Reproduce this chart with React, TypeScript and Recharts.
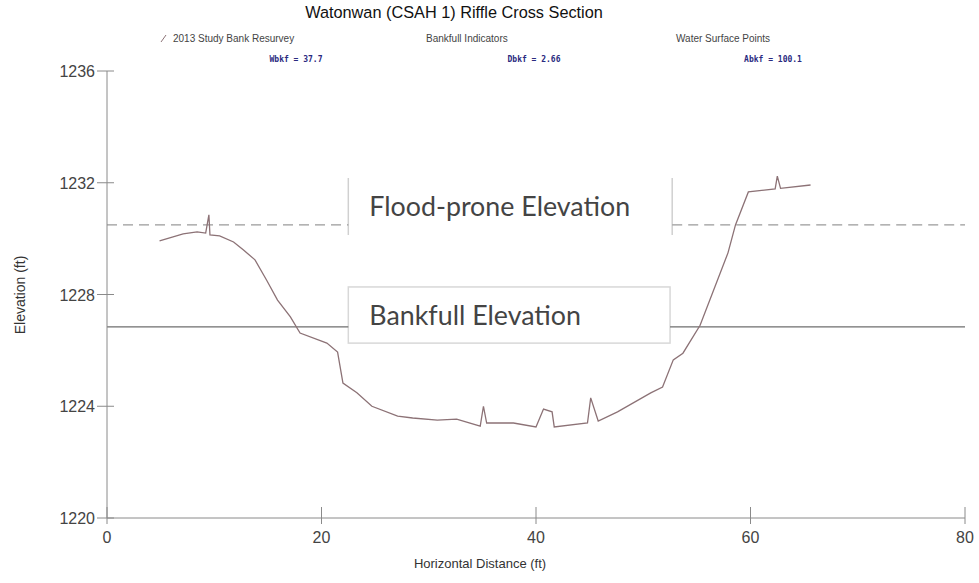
import React from "react";
import { LineChart, Line, XAxis, YAxis, ReferenceLine, ReferenceArea, Customized } from "recharts";

// surveyed cross-section: horizontal distance (ft) and elevation (ft)
const distance = [
  4.9, 7.1, 8.4, 9.2, 9.5, 9.6, 10.5, 11.8, 12.7, 13.8, 14.9, 15.9, 17.1, 18.0,
  20.5, 21.5, 22.0, 23.3, 24.7, 27.1, 28.5, 30.8, 32.6, 34.8, 35.1, 35.4, 37.9,
  40.0, 40.7, 41.5, 41.7, 44.8, 45.1, 45.8, 47.6, 50.7, 51.8, 52.8, 53.7, 55.3,
  57.9, 58.6, 59.8, 62.3, 62.5, 62.8, 65.6,
];
const elevation = [
  1229.92, 1230.17, 1230.24, 1230.2, 1230.85, 1230.13, 1230.1, 1229.88, 1229.6,
  1229.24, 1228.5, 1227.8, 1227.2, 1226.62, 1226.26, 1225.94, 1224.83, 1224.48,
  1224.0, 1223.65, 1223.58, 1223.5, 1223.54, 1223.29, 1224.0, 1223.4, 1223.4,
  1223.26, 1223.9, 1223.8, 1223.26, 1223.4, 1224.3, 1223.47, 1223.8, 1224.48,
  1224.69, 1225.66, 1225.9, 1226.9, 1229.49, 1230.49, 1231.67, 1231.78, 1232.24,
  1231.8, 1231.92,
];

const xTicks = [0, 20, 40, 60, 80];
const yTicks = [1220, 1224, 1228, 1232, 1236];

const floodProneElev = 1230.49;
const bankfullElev = 1226.84;

const legendLabels = ["2013 Study Bank Resurvey", "Bankfull Indicators", "Water Surface Points"];
const bankfullStats = ["Wbkf = 37.7", "Dbkf = 2.66", "Abkf = 100.1"];

const profile = distance.map((d, i) => ({ x: d, y: elevation[i] }));

const FONT = "'Liberation Sans', Arial, sans-serif";
const AXIS = "#8a8a8a";
const PROFILE = "#8c7276";

const YTick = ({ x, y, payload }: any) => (
  <g>
    <line x1={x - 10} x2={x + 7} y1={y} y2={y} stroke={AXIS} />
    <text x={x - 12} y={y + 6} textAnchor="end" fontSize={16} fill="#444" fontFamily={FONT}>
      {payload.value}
    </text>
  </g>
);

const XTick = ({ x, y, payload }: any) => (
  <g>
    <line x1={x} x2={x} y1={y - 11} y2={y + 6} stroke={AXIS} />
    <text x={x} y={y + 25} textAnchor="middle" fontSize={16} fill="#444" fontFamily={FONT}>
      {payload.value}
    </text>
  </g>
);

// white label box; "sides" draws only the vertical edges
const LabelBox = (text: string, sides: boolean) => (props: any) => {
  const { x, y, width, height } = props;
  return (
    <g>
      <rect x={x} y={y} width={width} height={height} fill="#fff" stroke={sides ? "none" : "#d8d8d8"} strokeWidth={1.5} />
      {sides && (
        <>
          <line x1={x} x2={x} y1={y} y2={y + height} stroke="#d0d0d0" strokeWidth={1.5} />
          <line x1={x + width} x2={x + width} y1={y} y2={y + height} stroke="#d0d0d0" strokeWidth={1.5} />
        </>
      )}
      <text x={x + 21} y={y + height / 2 + 10} fontSize={26.8} fill="#444" fontFamily="Lato, 'Open Sans', sans-serif">
        {text}
      </text>
    </g>
  );
};

const Header = () => (
  <g fontFamily={FONT}>
    <text x={454} y={18} textAnchor="middle" fontSize={16.3} fill="#111">
      Watonwan (CSAH 1) Riffle Cross Section
    </text>
    <line x1={161} y1={42} x2={166} y2={35} stroke={PROFILE} />
    {legendLabels.map((t, i) => (
      <text key={t} x={[173, 426, 676][i]} y={42} fontSize={10} fill="#444">
        {t}
      </text>
    ))}
    {bankfullStats.map((t, i) => (
      <text
        key={t}
        x={[296, 534, 773][i]}
        y={62}
        textAnchor="middle"
        fontSize={8}
        fontWeight="bold"
        fill="#2a2a80"
        fontFamily="'DejaVu Sans Mono', monospace"
      >
        {t}
      </text>
    ))}
    <text x={20} y={295} transform="rotate(-90 20 295)" textAnchor="middle" dy={5} fontSize={14} fill="#333">
      Elevation (ft)
    </text>
    <text x={480} y={568} textAnchor="middle" fontSize={13} fill="#333">
      Horizontal Distance (ft)
    </text>
  </g>
);

export default function App() {
  return (
    <div style={{ position: "absolute", left: 0, top: 0, background: "#fff" }}>
      <LineChart width={979} height={583} data={profile} margin={{ top: 71, right: 14, bottom: 0, left: 0 }}>
        <XAxis
          type="number"
          dataKey="x"
          domain={[0, 80]}
          ticks={xTicks}
          height={65}
          stroke={AXIS}
          tickLine={false}
          tickSize={0}
          tickMargin={0}
          tick={<XTick />}
        />
        <YAxis
          type="number"
          domain={[1220, 1236]}
          ticks={yTicks}
          width={107}
          stroke={AXIS}
          tickLine={false}
          tickSize={0}
          tickMargin={0}
          tick={<YTick />}
        />
        {/* flood-prone elevation, broken where its label sits */}
        <ReferenceLine segment={[{ x: 0, y: floodProneElev }, { x: 22.5, y: floodProneElev }]} stroke="#9a9a9a" strokeWidth={1.3} strokeDasharray="10 6" />
        <ReferenceLine segment={[{ x: 52.7, y: floodProneElev }, { x: 80, y: floodProneElev }]} stroke="#9a9a9a" strokeWidth={1.3} strokeDasharray="10 6" />
        {/* bankfull elevation */}
        <ReferenceLine segment={[{ x: 0, y: bankfullElev }, { x: 22.5, y: bankfullElev }]} stroke="#6e6e6e" strokeWidth={1.2} />
        <ReferenceLine segment={[{ x: 52.5, y: bankfullElev }, { x: 80, y: bankfullElev }]} stroke="#6e6e6e" strokeWidth={1.2} />
        <ReferenceArea x1={22.5} x2={52.7} y1={1230.13} y2={1232.17} shape={LabelBox("Flood-prone Elevation", true)} />
        <ReferenceArea x1={22.5} x2={52.5} y1={1226.26} y2={1228.27} shape={LabelBox("Bankfull Elevation", false)} />
        <Line
          type="linear"
          dataKey="y"
          stroke={PROFILE}
          strokeWidth={1.3}
          dot={false}
          isAnimationActive={false}
        />
        <Customized component={Header} />
      </LineChart>
    </div>
  );
}
